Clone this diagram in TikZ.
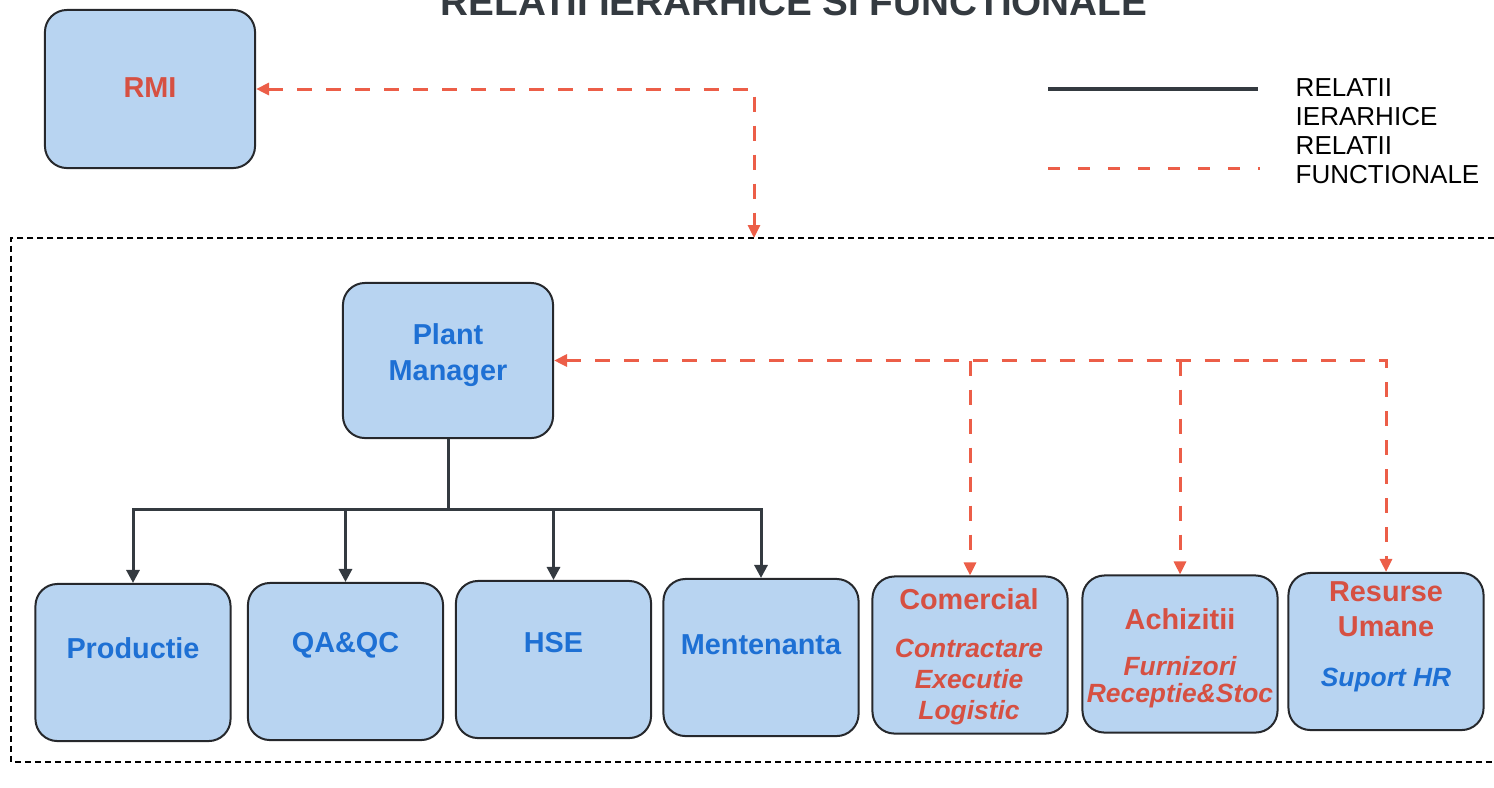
\documentclass[tikz,border=0pt]{standalone}
\usepackage{fontspec}
\setmainfont{Liberation Sans}
\usetikzlibrary{arrows.meta}

\definecolor{boxfill}{RGB}{184,212,241}
\definecolor{boxedge}{RGB}{38,40,44}
\definecolor{unitred}{RGB}{214,80,66}
\definecolor{unitblue}{RGB}{30,112,212}
\definecolor{funcred}{RGB}{236,94,72}
\definecolor{hiergray}{RGB}{52,58,64}

\tikzset{
    unitbox/.style={draw=boxedge, fill=boxfill, line width=0.02cm, rounded corners=0.22cm,
        minimum width=1.95cm, minimum height=1.57cm, inner sep=0pt},
    bluetxt/.style={text=unitblue, inner sep=0pt, align=center,
        font=\fontsize{8.2pt}{10.2pt}\selectfont\bfseries},
    redtxt/.style={text=unitred, inner sep=0pt, align=center,
        font=\fontsize{8.2pt}{10.2pt}\selectfont\bfseries},
    hierline/.style={draw=hiergray, line width=0.03cm},
    hierarrow/.style={hierline, -{Triangle[width=0.13cm, length=0.13cm]}},
    funcline/.style={draw=funcred, line width=0.03cm, dash pattern=on 0.15cm off 0.14cm},
    funcarrow/.style={funcline, -{Triangle[width=0.12cm, length=0.13cm]}},
    funcboth/.style={funcline, {Triangle[width=0.12cm, length=0.13cm]}-{Triangle[width=0.12cm, length=0.13cm]}},
    groupframe/.style={draw=black, line width=0.018cm, dash pattern=on 0.06cm off 0.04cm}
}

\newcommand{\subit}{\fontsize{7.5pt}{8.5pt}\selectfont\itshape}

\begin{document}
\begin{tikzpicture}[x=0.01cm, y=-0.01cm]
    \useasboundingbox (0,0) rectangle (1494,787);

    % title, cut at the top edge
    \node[anchor=base, inner sep=0pt, text=hiergray, font=\fontsize{11pt}{13pt}\selectfont\bfseries] (title) at (794,15) {RELATII IERARHICE SI FUNCTIONALE};

    % legend
    \draw[hierline, line width=0.04cm] (1048,89) -- (1258,89);
    \draw[funcline, dash pattern=on 0.12cm off 0.18cm] (1048,168) -- (1260,168);
    \node[anchor=north west, inner sep=0pt, align=left, font=\fontsize{7.4pt}{8.25pt}\selectfont] (legend) at (1295,78) {RELATII\\IERARHICE\\RELATII\\FUNCTIONALE};

    % plant frame
    \draw[groupframe] (1494,238) -- (11,238) -- (11,762) -- (1494,762);
    \coordinate (frametop) at (754,238);

    % units
    \node[unitbox, minimum width=2.1cm, minimum height=1.58cm] (rmi) at (150,89) {};
    \node[redtxt] (rmitxt) at (150,88) {RMI};

    \node[unitbox, minimum width=2.1cm, minimum height=1.55cm] (pm) at (448,360.5) {};
    \node[bluetxt, align=center] (pmtxt) at (448,355) {Plant\\Manager};

    \node[unitbox] (prod) at (133,662.5) {};
    \node[unitbox] (qaqc) at (345.5,661.5) {};
    \node[unitbox] (hse)  at (553.5,659.5) {};
    \node[unitbox] (ment) at (761,657.5) {};
    \node[unitbox] (com)  at (970,655) {};
    \node[unitbox] (ach)  at (1180,654) {};
    \node[unitbox] (hr)   at (1386,651.5) {};

    \node[bluetxt] (prodtxt) at (133,648) {Productie};
    \node[bluetxt] (qaqctxt) at (345.5,645) {QA\&QC};
    \node[bluetxt] (hsetxt)  at (553.5,643) {HSE};
    \node[bluetxt] (menttxt) at (761,645) {Mentenanta};
    \node[redtxt] (comtxt) at (969,657) {Comercial\\[3.5pt]{\subit Contractare}\\[-1.4pt]{\subit Executie}\\[-1.4pt]{\subit Logistic}};
    \node[redtxt] (achtxt) at (1180,658) {Achizitii\\[2.9pt]{\subit Furnizori}\\[-2.5pt]{\subit Receptie\&Stoc}};
    \node[redtxt] (hrtxt)  at (1386,637) {Resurse\\[-0.2pt]Umane\\[4pt]{\subit\color{unitblue}Suport HR}};

    % hierarchical relations
    \coordinate (hub) at (pm.south |- 0,509);
    \draw[hierline] (pm.south) -- (hub);
    \draw[hierarrow] (hub) -| (prod.north);
    \draw[hierarrow] (hub) -| (qaqc.north);
    \draw[hierarrow] (hub) -| (hse.north);
    \draw[hierarrow] (hub) -| (ment.north);

    % functional relations
    \draw[funcboth] (rmi.east) -| (frametop);
    \draw[funcboth] (pm.east) -| (hr.north);
    \draw[funcarrow] (pm.east -| com.north) -- (com.north);
    \draw[funcarrow] (pm.east -| ach.north) -- (ach.north);
\end{tikzpicture}
\end{document}
